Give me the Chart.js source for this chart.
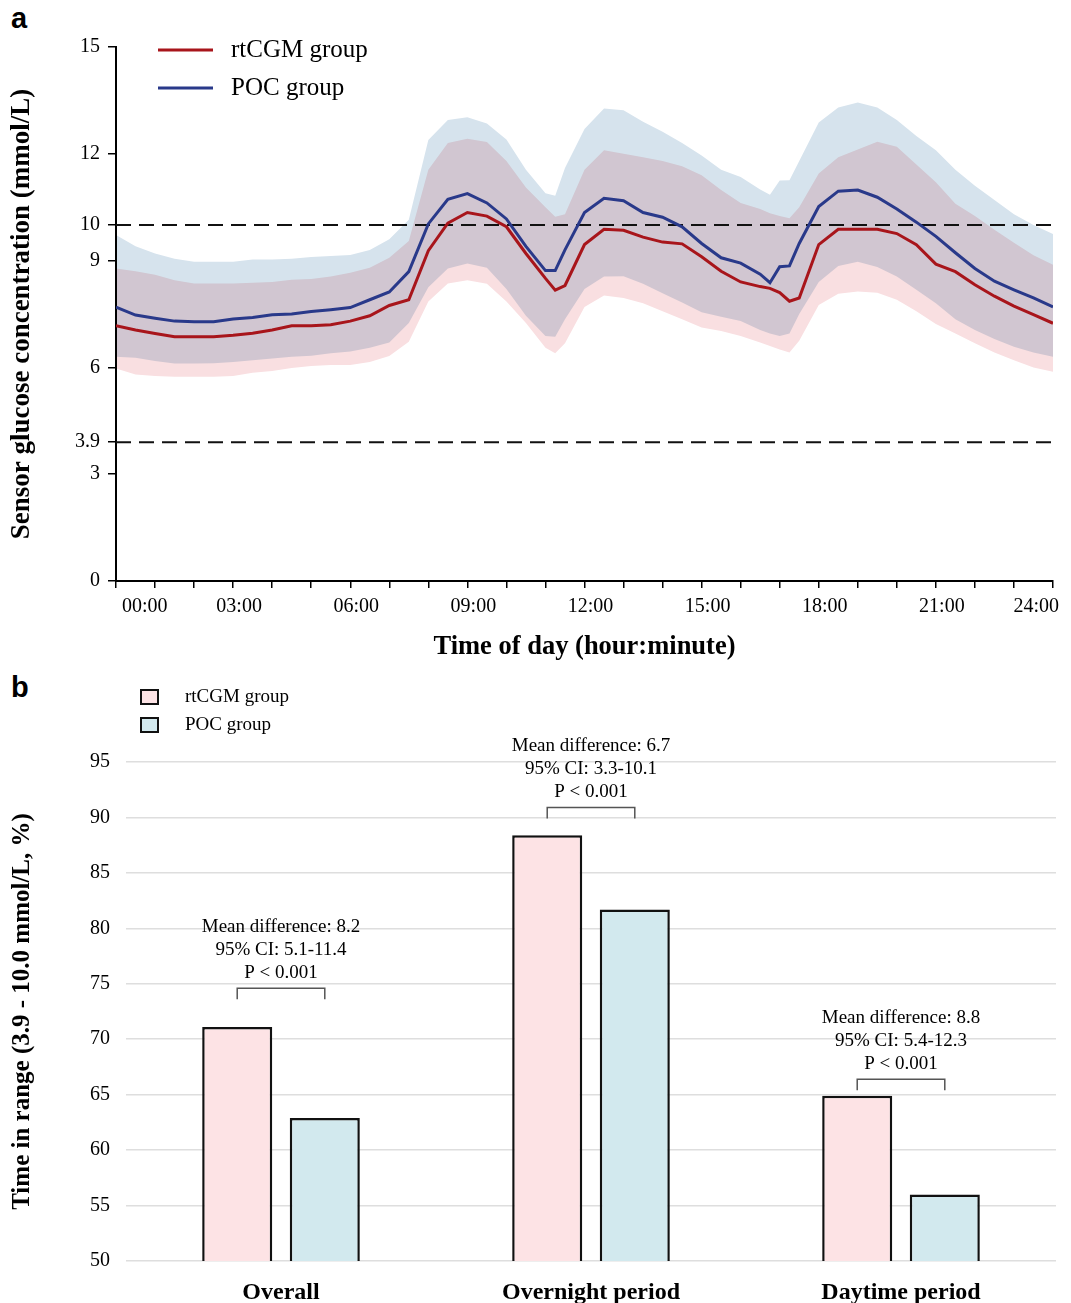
<!DOCTYPE html>
<html>
<head>
<meta charset="utf-8">
<script src="https://cdn.jsdelivr.net/npm/chart.js@4.4.1/dist/chart.umd.min.js"></script>
<style>
  html, body { margin: 0; padding: 0; background: #fff; }
  body { width: 1071px; height: 1303px; position: relative; overflow: hidden; }
  .panel { position: absolute; left: 0; }
  .tag { position: absolute; left: 11px; font: bold 29px 'Liberation Sans', Arial, sans-serif; line-height: 1.15; }
</style>
</head>
<body>
<div class="tag" style="top: 2px">a</div>
<div class="tag" style="top: 671px">b</div>
<div class="panel" style="top: 0"><canvas id="glucose" width="1071" height="665"></canvas></div>
<div class="panel" style="top: 665px"><canvas id="tir" width="1071" height="638"></canvas></div>

<script>
// ---- panel a: 24 h glucose profile (mean and band per group) ----
const hours = [0, 0.5, 1, 1.5, 2, 2.5, 3, 3.5, 4, 4.5, 5, 5.5, 6, 6.5, 7, 7.5, 8, 8.5, 9, 9.5, 10, 10.5, 11, 11.25,
  11.5, 12, 12.5, 13, 13.5, 14, 14.5, 15, 15.5, 16, 16.5, 16.75, 17, 17.25, 17.5, 18, 18.5, 19, 19.5, 20, 20.5,
  21, 21.5, 22, 22.5, 23, 23.5, 24];

const rtcgmMean = [7.17, 7.05, 6.95, 6.86, 6.86, 6.86, 6.90, 6.96, 7.05, 7.17, 7.17, 7.20, 7.30, 7.45, 7.74, 7.90,
  9.28, 10.05, 10.35, 10.25, 9.95, 9.20, 8.50, 8.17, 8.30, 9.45, 9.88, 9.85, 9.66, 9.52, 9.47, 9.11, 8.70, 8.40,
  8.27, 8.22, 8.10, 7.86, 7.95, 9.45, 9.88, 9.88, 9.88, 9.76, 9.45, 8.90, 8.69, 8.32, 8.00, 7.72, 7.48, 7.24];
const rtcgmUpper = [8.78, 8.70, 8.60, 8.45, 8.36, 8.36, 8.36, 8.38, 8.40, 8.46, 8.48, 8.55, 8.66, 8.80, 9.08, 9.55,
  11.55, 12.30, 12.42, 12.33, 11.80, 11.05, 10.50, 10.23, 10.30, 11.55, 12.10, 12.00, 11.90, 11.80, 11.65, 11.40,
  10.98, 10.62, 10.45, 10.33, 10.25, 10.19, 10.50, 11.45, 11.90, 12.12, 12.34, 12.20, 11.70, 11.20, 10.60, 10.25,
  9.87, 9.50, 9.15, 8.88];
const rtcgmLower = [5.97, 5.80, 5.76, 5.74, 5.74, 5.74, 5.76, 5.85, 5.90, 5.98, 6.04, 6.07, 6.07, 6.15, 6.32, 6.72,
  7.85, 8.36, 8.45, 8.35, 7.85, 7.25, 6.55, 6.40, 6.68, 7.70, 8.02, 7.95, 7.80, 7.58, 7.35, 7.12, 7.02, 6.88, 6.70,
  6.60, 6.50, 6.42, 6.75, 7.75, 8.07, 8.13, 8.10, 7.90, 7.58, 7.22, 6.95, 6.68, 6.42, 6.20, 6.00, 5.88];

const pocMean = [7.69, 7.47, 7.38, 7.30, 7.28, 7.28, 7.36, 7.40, 7.48, 7.50, 7.57, 7.62, 7.68, 7.90, 8.12, 8.69,
  10.03, 10.72, 10.88, 10.62, 10.17, 9.40, 8.72, 8.72, 9.30, 10.35, 10.75, 10.68, 10.35, 10.22, 9.95, 9.48, 9.08,
  8.93, 8.62, 8.38, 8.83, 8.85, 9.48, 10.52, 10.95, 10.98, 10.78, 10.45, 10.08, 9.68, 9.22, 8.78, 8.42, 8.18, 7.95, 7.70];
const pocUpper = [9.72, 9.40, 9.20, 9.05, 8.97, 8.97, 8.97, 9.03, 9.03, 9.05, 9.10, 9.13, 9.16, 9.30, 9.60, 10.15,
  12.39, 12.95, 13.03, 12.85, 12.40, 11.55, 10.89, 10.82, 11.60, 12.70, 13.27, 13.22, 12.90, 12.62, 12.30, 11.95,
  11.55, 11.35, 11.00, 10.85, 11.25, 11.26, 11.80, 12.88, 13.30, 13.44, 13.30, 12.95, 12.50, 12.10, 11.55, 11.10,
  10.70, 10.30, 10.00, 9.75];
const pocLower = [6.30, 6.27, 6.18, 6.11, 6.11, 6.12, 6.15, 6.20, 6.25, 6.30, 6.33, 6.40, 6.45, 6.55, 6.70, 7.25,
  8.25, 8.78, 8.92, 8.80, 8.20, 7.45, 6.88, 6.86, 7.35, 8.20, 8.55, 8.56, 8.35, 8.08, 7.82, 7.55, 7.42, 7.30, 7.05,
  6.95, 6.88, 6.95, 7.50, 8.40, 8.85, 8.97, 8.82, 8.55, 8.18, 7.80, 7.35, 7.05, 6.80, 6.58, 6.42, 6.30];

const glucoseTicks = [0, 3, 3.9, 6, 9, 10, 12, 15];
const targetRange = [3.9, 10];

// ---- panel b: time in range ----
const periods = ['Overall', 'Overnight period', 'Daytime period'];
const tirRtcgm = [71.1, 88.4, 64.9];
const tirPoc = [62.9, 81.7, 56.0];
const meanDiff = ['8.2', '6.7', '8.8'];
const ci95 = ['5.1-11.4', '3.3-10.1', '5.4-12.3'];
const pText = ['P < 0.001', 'P < 0.001', 'P < 0.001'];
const bracketAt = [74.6, 90.9, 66.4];

const SERIF = "'Liberation Serif', 'Times New Roman', serif";
Chart.defaults.font.family = SERIF;
Chart.defaults.color = '#000';

const RED = '#a8151b';
const BLUE = '#29398a';

const pts = arr => hours.map((h, i) => ({ x: h, y: arr[i] }));
const flat = v => [{ x: 0, y: v }, { x: 24, y: v }];
const hhmm = v => String(v).padStart(2, '0') + ':00';

// bands are blended with multiply so the overlap turns mauve
const multiplyFill = {
  id: 'multiplyFill',
  beforeRender(chart) { chart.ctx.globalCompositeOperation = 'multiply'; },
  beforeDraw(chart) { chart.ctx.globalCompositeOperation = 'source-over'; }
};

const lineLegend = {
  id: 'lineLegend',
  afterDraw(chart) {
    const ctx = chart.ctx;
    ctx.save();
    ctx.font = '25px ' + SERIF;
    ctx.textBaseline = 'middle';
    chart.data.datasets.filter(d => d.legendRow !== undefined).forEach(d => {
      const y = 50 + d.legendRow * 38;
      ctx.strokeStyle = d.borderColor;
      ctx.lineWidth = 3;
      ctx.beginPath();
      ctx.moveTo(158, y);
      ctx.lineTo(213, y);
      ctx.stroke();
      ctx.fillStyle = '#000';
      ctx.fillText(d.label, 231, y);
    });
    ctx.restore();
  }
};

const lineBase = { pointRadius: 0, tension: 0, fill: false };

new Chart(document.getElementById('glucose'), {
  type: 'line',
  data: {
    datasets: [
      { ...lineBase, label: 'rtCGM group', legendRow: 0, data: pts(rtcgmMean), borderColor: RED, borderWidth: 3 },
      { ...lineBase, label: 'POC group', legendRow: 1, data: pts(pocMean), borderColor: BLUE, borderWidth: 3 },
      { ...lineBase, label: 'upper', data: flat(targetRange[1]), borderColor: '#111', borderWidth: 2, borderDash: [15, 8] },
      { ...lineBase, label: 'lower', data: flat(targetRange[0]), borderColor: '#111', borderWidth: 2, borderDash: [15, 8] },
      { ...lineBase, label: 'POC hi', data: pts(pocUpper), borderWidth: 0 },
      { ...lineBase, label: 'POC lo', data: pts(pocLower), borderWidth: 0, fill: 4, backgroundColor: '#d6e3ed' },
      { ...lineBase, label: 'rtCGM hi', data: pts(rtcgmUpper), borderWidth: 0 },
      { ...lineBase, label: 'rtCGM lo', data: pts(rtcgmLower), borderWidth: 0, fill: 6, backgroundColor: '#f9dfe1' }
    ]
  },
  options: {
    responsive: false,
    animation: false,
    layout: { padding: { top: 47, right: 18, left: 0, bottom: 0 } },
    plugins: {
      legend: { display: false },
      tooltip: { enabled: false },
      filler: { drawTime: 'beforeDraw' }
    },
    scales: {
      x: {
        type: 'linear', min: 0, max: 24,
        ticks: {
          stepSize: 1, autoSkip: false, maxRotation: 0, align: 'inner', labelOffset: 6, padding: 7,
          font: { size: 20 }, color: '#000',
          callback: v => (v % 3 === 0 ? hhmm(v) : '')
        },
        grid: { drawOnChartArea: false, drawTicks: true, tickLength: 7, color: '#000', lineWidth: 1.5 },
        border: { display: true, color: '#000', width: 2 },
        title: {
          display: true, text: 'Time of day (hour:minute)',
          font: { size: 26.5, weight: 'bold' }, color: '#000', padding: { top: 0, bottom: 2 }
        },
        afterFit: s => { s.height = 84; s.paddingLeft = 0; s.paddingRight = 0; }
      },
      y: {
        type: 'linear', min: 0, max: 15,
        afterBuildTicks: s => { s.ticks = glucoseTicks.map(v => ({ value: v })); },
        ticks: { padding: 8, font: { size: 20 }, color: '#000', callback: v => String(v) },
        grid: { drawOnChartArea: false, drawTicks: true, tickLength: 8, color: '#000', lineWidth: 1.5 },
        border: { display: true, color: '#000', width: 2 },
        title: {
          display: true, text: 'Sensor glucose concentration (mmol/L)',
          font: { size: 27, weight: 'bold' }, color: '#000', padding: { top: 6, bottom: 0 }
        },
        afterFit: s => { s.width = 116; s.paddingTop = 0; s.paddingBottom = 0; }
      }
    }
  },
  plugins: [multiplyFill, lineLegend]
});

// ---- panel b ----
const boxLegend = {
  id: 'boxLegend',
  afterDraw(chart) {
    const ctx = chart.ctx;
    ctx.save();
    ctx.font = '19px ' + SERIF;
    ctx.textBaseline = 'middle';
    chart.data.datasets.forEach((d, i) => {
      const y = 25 + i * 28;
      ctx.fillStyle = d.backgroundColor;
      ctx.fillRect(141, y, 17, 14);
      ctx.strokeStyle = '#111';
      ctx.lineWidth = 2;
      ctx.strokeRect(141, y, 17, 14);
      ctx.fillStyle = '#000';
      ctx.fillText(d.label, 185, y + 7);
    });
    ctx.restore();
  }
};

const diffNotes = {
  id: 'diffNotes',
  afterDatasetsDraw(chart) {
    const ctx = chart.ctx;
    const a = chart.getDatasetMeta(0).data;
    const b = chart.getDatasetMeta(1).data;
    const ys = chart.scales.y;
    ctx.save();
    periods.forEach((p, i) => {
      const x0 = a[i].x, x1 = b[i].x;
      const top = ys.getPixelForValue(bracketAt[i]);
      ctx.strokeStyle = '#555';
      ctx.lineWidth = 1.5;
      ctx.beginPath();
      ctx.moveTo(x0, top + 11);
      ctx.lineTo(x0, top);
      ctx.lineTo(x1, top);
      ctx.lineTo(x1, top + 11);
      ctx.stroke();
      const cx = (x0 + x1) / 2;
      ctx.fillStyle = '#000';
      ctx.font = '19px ' + SERIF;
      ctx.textAlign = 'center';
      ctx.textBaseline = 'middle';
      ctx.fillText('Mean difference: ' + meanDiff[i], cx, top - 61);
      ctx.fillText('95% CI: ' + ci95[i], cx, top - 38);
      ctx.fillText(pText[i], cx, top - 15);
    });
    ctx.restore();
  }
};

const barBase = {
  borderColor: '#111', borderWidth: 2.5, borderSkipped: false,
  categoryPercentage: 0.565, barPercentage: 0.8
};

new Chart(document.getElementById('tir'), {
  type: 'bar',
  data: {
    labels: periods,
    datasets: [
      { ...barBase, label: 'rtCGM group', data: tirRtcgm, backgroundColor: '#fde3e5' },
      { ...barBase, label: 'POC group', data: tirPoc, backgroundColor: '#d2e9ee' }
    ]
  },
  options: {
    responsive: false,
    animation: false,
    layout: { padding: { top: 97, right: 15, left: 0, bottom: 0 } },
    plugins: { legend: { display: false }, tooltip: { enabled: false } },
    scales: {
      x: {
        grid: { display: false },
        border: { display: false },
        ticks: { font: { size: 24, weight: 'bold' }, color: '#000', padding: 9 },
        afterFit: s => { s.height = 42; s.paddingLeft = 0; s.paddingRight = 0; }
      },
      y: {
        min: 50, max: 95,
        ticks: { stepSize: 5, padding: 16, font: { size: 20 }, color: '#000', callback: v => String(v) },
        grid: { color: '#dedede', lineWidth: 1.5, drawTicks: false },
        border: { display: false },
        title: {
          display: true, text: 'Time in range (3.9 - 10.0 mmol/L, %)',
          font: { size: 25, weight: 'bold' }, color: '#000', padding: { top: 8, bottom: 0 }
        },
        afterFit: s => { s.width = 126; s.paddingTop = 0; s.paddingBottom = 0; }
      }
    }
  },
  plugins: [boxLegend, diffNotes]
});
</script>
</body>
</html>
